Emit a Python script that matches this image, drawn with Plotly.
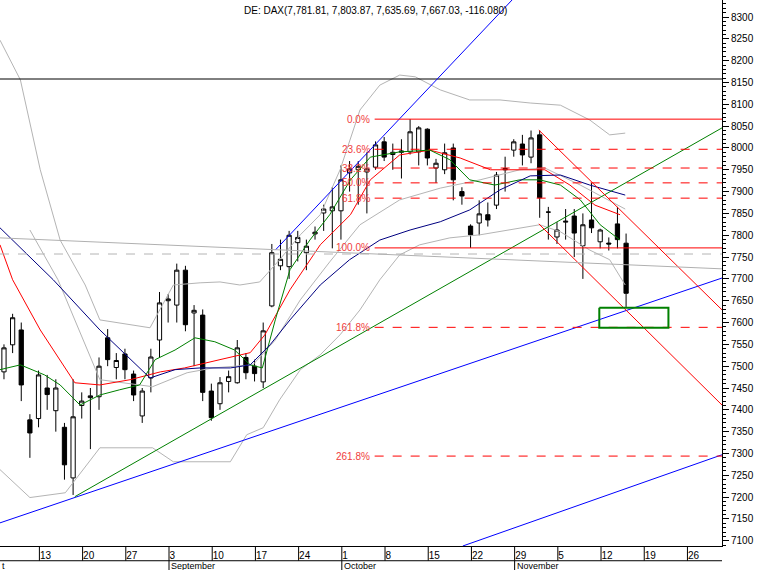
import plotly.graph_objects as go

# trading-day index 0 = 6 Aug
opens = [7487, 7549, 7583, 7377, 7380, 7450, 7398, 7360, 7244, 7410,
         7428, 7430, 7565, 7497, 7528, 7482, 7386, 7473, 7560, 7650,
         7640, 7720, 7622, 7617, 7443, 7414, 7465, 7462, 7520, 7500,
         7464, 7638, 7730, 7728, 7783, 7760, 7803, 7851, 7856, 7856,
         7943, 7950, 7945, 7956, 8014, 7985, 7990, 7991, 7991, 8043,
         7954, 7950, 8000, 7900, 7821, 7828, 7847, 7869, 7950, 7995,
         8009, 7979, 8030, 7853, 7796, 7830, 7844, 7776, 7835, 7785,
         7782, 7826, 7781.81]
highs = [7550, 7620, 7600, 7390, 7490, 7480, 7470, 7370, 7470, 7440,
         7450, 7520, 7585, 7530, 7540, 7490, 7450, 7540, 7670, 7665,
         7735, 7730, 7640, 7630, 7460, 7475, 7490, 7560, 7530, 7515,
         7600, 7780, 7790, 7810, 7810, 7790, 7820, 7870, 7910, 7960,
         7970, 7970, 7990, 8015, 8025, 8010, 8020, 8066, 8050, 8045,
         7975, 8010, 8010, 7910, 7825, 7880, 7875, 7945, 7980, 8020,
         8030, 8040, 8040, 7865, 7830, 7860, 7860, 7850, 7920, 7815,
         7795, 7865, 7803.87]
lows = [7470, 7530, 7420, 7290, 7360, 7400, 7350, 7240, 7205, 7380,
        7310, 7400, 7500, 7470, 7470, 7420, 7370, 7440, 7520, 7600,
        7600, 7580, 7500, 7420, 7375, 7400, 7440, 7460, 7470, 7465,
        7450, 7635, 7720, 7700, 7740, 7720, 7790, 7810, 7770, 7790,
        7900, 7870, 7850, 7950, 7970, 7950, 7930, 7985, 7960, 7960,
        7920, 7940, 7880, 7870, 7771, 7800, 7820, 7860, 7900, 7980,
        7960, 7965, 7840, 7790, 7780, 7790, 7750, 7700, 7805, 7770,
        7765, 7770, 7635.69]
closes = [7542, 7611, 7457, 7347, 7480, 7435, 7450, 7274, 7384, 7420,
          7432, 7500, 7515, 7513, 7492, 7434, 7443, 7521, 7645, 7654,
          7720, 7595, 7628, 7440, 7382, 7462, 7476, 7542, 7485, 7483,
          7581, 7760, 7745, 7800, 7795, 7775, 7807, 7860, 7865, 7927,
          7952, 7958, 7952, 8007, 7979, 7990, 7993, 8037, 8046, 7977,
          7965, 7989, 7927, 7890, 7801, 7849, 7835, 7938, 7953, 8014,
          7984, 8023, 7886, 7853, 7812, 7832, 7805, 7824, 7817, 7812,
          7780, 7790, 7667.03]

# indicator lines: (index, value)
red_ma_x = [-0.46, 1.0, 4.2, 8.2, 11.1, 14.6, 18.1, 20.9, 25.0, 28.5, 30.2, 33.1, 36.6,
            40.1, 42.4, 45.8, 49.3, 52.8, 56.3, 59.7, 62.6, 65.5, 68.4, 71.3]
red_ma_y = [7778, 7698, 7583, 7462, 7457, 7469, 7487, 7496, 7515, 7531, 7572, 7675, 7778,
            7847, 7927, 7984, 7995, 7977, 7950, 7950, 7950, 7915, 7869, 7847]
green_ma_x = [-0.46, 1.9, 4.7, 6.5, 8.8, 11.1, 13.4, 15.7, 17.5, 19.8, 22.1, 24.4, 26.7,
              28.5, 29.9, 31.4, 33.1, 35.4, 37.7, 40.1, 42.4, 45.8, 49.3, 51.6, 53.9,
              56.8, 59.7, 62.0, 64.4, 66.7, 69.0, 71.3]
green_ma_y = [7492, 7503, 7480, 7457, 7411, 7434, 7446, 7457, 7515, 7537, 7565, 7556, 7537,
              7503, 7496, 7606, 7721, 7789, 7847, 7927, 7979, 7991, 7995, 7973, 7927,
              7915, 7927, 7927, 7915, 7881, 7824, 7789]
blue_ma_x = [-0.46, 5.7, 11.1, 16.9, 19.8, 22.7, 26.2, 28.5, 30.8, 33.1,
             36.6, 40.0, 43.5, 47.0, 50.5, 53.9, 57.4, 60.9, 64.4, 67.8, 71.9]
blue_ma_y = [7817, 7698, 7583, 7473, 7492, 7496, 7496, 7503, 7549, 7606,
             7686, 7744, 7789, 7812, 7831, 7858, 7904, 7936, 7938, 7915, 7892]
bb_up_x = [-0.46, 1.9, 4.2, 6.5, 9.4, 11.1, 16.9, 19.6, 22.7, 25.0, 27.3, 29.6, 31.9, 34.3,
           36.6, 38.9, 41.2, 43.5, 45.8, 47.6, 50.5, 53.9, 57.4, 60.9, 64.4, 67.8, 70.1, 71.9]
bb_up_y = [8247, 8156, 7950, 7789, 7686, 7606, 7588, 7686, 7691, 7693, 7686, 7693, 7744, 7801,
           7847, 7950, 8087, 8144, 8167, 8163, 8133, 8110, 8110, 8103, 8098, 8064, 8030, 8034]
bb_mid_x = [3.0, 6.25, 11.1, 17.2, 21.2, 24.2, 28.8, 31.4, 34.3, 37.7, 41.2, 45.8, 50.5,
            55.1, 59.7, 62.6, 66.7, 71.9]
bb_mid_y = [7812, 7698, 7469, 7453, 7485, 7496, 7503, 7560, 7652, 7739, 7824, 7881, 7908,
            7927, 7950, 7954, 7915, 7860]
bb_lo_x = [-0.46, 3.0, 7.1, 11.1, 17.2, 19.6, 26.2, 28.1, 30.0, 31.9, 34.3, 36.6, 38.9, 41.2,
           43.5, 45.8, 48.1, 51.6, 55.1, 58.6, 62.0, 64.4, 67.8, 70.1, 71.9]
bb_lo_y = [7263, 7199, 7210, 7313, 7313, 7281, 7281, 7343, 7359, 7423, 7492, 7526, 7572, 7629,
           7698, 7755, 7778, 7794, 7801, 7812, 7824, 7808, 7766, 7744, 7686]

# hand-drawn trendlines (start/end index, start/end value)
trendlines = [
    ([31.4, 58.8], [7766, 8339], "#0000ff"),
    ([-0.46, 83.1], [7141, 7702], "#0000ff"),
    ([53.1, 83.1], [7088, 7297], "#0000ff"),
    ([8.2, 83.1], [7201, 8046], "#008000"),
    ([61.9, 83.1], [8041, 7629], "#ff0000"),
    ([61.9, 83.1], [7826, 7411], "#ff0000"),
    ([-0.46, 83.1], [7794, 7723], "#b0b0b0"),
]

fib_labels = ["0.0%", "23.6%", "38.2%", "50.0%", "61.8%", "100.0%", "161.8%", "261.8%"]
fib_levels = [8066, 7997, 7954, 7920, 7885, 7771, 7589, 7294]

tick_vals = [4.1, 9.1, 14.1, 19.1, 24.1, 29.1, 34.1, 39.1, 44.1, 49.1, 54.1, 59.1, 64.1, 69.1, 74.1, 79.1]
tick_text = ["13", "20", "27", "3", "10", "17", "24", "1", "8", "15", "22", "29", "5", "12", "19", "26"]
months = ["t", "September", "October", "November"]
month_pos = [-0.46, 19.1, 39.1, 59.1]

X0, X1 = -0.46, 83.1
fig = go.Figure()

for xs, ys, col in [(bb_up_x, bb_up_y, "#b4b4b4"), (bb_mid_x, bb_mid_y, "#b4b4b4"),
                    (bb_lo_x, bb_lo_y, "#b4b4b4"), (red_ma_x, red_ma_y, "#ff0000"),
                    (green_ma_x, green_ma_y, "#008000"), (blue_ma_x, blue_ma_y, "#000080")]:
    fig.add_trace(go.Scatter(x=xs, y=ys, mode="lines", line=dict(color=col, width=1), hoverinfo="skip"))

fig.add_trace(go.Scatter(x=[X0, X1], y=[7757, 7757], mode="lines",
                         line=dict(color="#b4b4b4", width=1, dash="dash")))
fig.add_trace(go.Scatter(x=[X0, X1], y=[8158, 8158], mode="lines", line=dict(color="black", width=1)))

for xs, ys, col in trendlines:
    fig.add_trace(go.Scatter(x=xs, y=ys, mode="lines", line=dict(color=col, width=1)))

for lab, lv in zip(fib_labels, fib_levels):
    solid = lab in ("0.0%", "100.0%")
    fig.add_trace(go.Scatter(x=[42.9, X1], y=[lv, lv], mode="lines",
                             line=dict(color="#ff0000", width=1, dash=None if solid else "dash")))
    fig.add_annotation(x=42.6, y=lv, text=lab, showarrow=False, xanchor="right",
                       font=dict(size=10, color="#f03c3c", family="Liberation Sans"))

# target box
fig.add_trace(go.Scatter(x=[68.9, 76.9, 76.9, 68.9, 68.9], y=[7634, 7634, 7588, 7588, 7634],
                         mode="lines", line=dict(color="#008000", width=2)))

fig.add_trace(go.Candlestick(
    x=list(range(len(closes))), open=opens, high=highs, low=lows, close=closes,
    increasing=dict(line=dict(color="black", width=1), fillcolor="white"),
    decreasing=dict(line=dict(color="black", width=1), fillcolor="black"),
    whiskerwidth=0,
))

# week separators in the date row
for t in tick_vals:
    fig.add_shape(type="line", x0=t, x1=t, xref="x", y0=0, y1=-0.027, yref="paper",
                  line=dict(color="black", width=1))
for m, p in zip(months, month_pos):
    fig.add_annotation(x=p, y=0, xref="x", yref="paper", yshift=-13, text=m, showarrow=False,
                       xanchor="left", yanchor="top", font=dict(size=9, color="black"))
    if p > X0:
        fig.add_shape(type="line", x0=p, x1=p, xref="x", y0=-0.027, y1=-0.06, yref="paper",
                      line=dict(color="black", width=1))
fig.add_shape(type="line", x0=0, x1=1, xref="paper", y0=-0.027, y1=-0.027, yref="paper",
              line=dict(color="black", width=1))

fig.add_annotation(x=0.52, y=1, xref="paper", yref="paper", yshift=-3,
                   text="DE: DAX(7,781.81, 7,803.87, 7,635.69, 7,667.03, -116.080)",
                   showarrow=False, yanchor="top", font=dict(size=10, color="black"))

fig.update_layout(
    width=765, height=570, showlegend=False,
    margin=dict(l=0, r=43, t=0, b=24, autoexpand=False),
    paper_bgcolor="white", plot_bgcolor="white",
    font=dict(family="Liberation Sans", size=10, color="black"),
    xaxis=dict(range=[X0, X1], rangeslider=dict(visible=False), showgrid=False, zeroline=False,
               tickvals=tick_vals, ticktext=tick_text, ticks="", ticklabelstandoff=0,
               showline=True, linecolor="black", ticklabelposition="outside right",
               tickfont=dict(size=10)),
    yaxis=dict(range=[7088, 8339], side="right", showgrid=False, zeroline=False,
               tickvals=list(range(7100, 8301, 50)), ticks="outside", ticklen=6, tickcolor="black",
               showline=True, linecolor="black", tickfont=dict(size=10),
               minor=dict(dtick=10, ticks="outside", ticklen=3, tickcolor="black")),
)

fig.write_html("out.html", config=dict(displayModeBar=False),
               post_script="document.body.style.margin='0';")
